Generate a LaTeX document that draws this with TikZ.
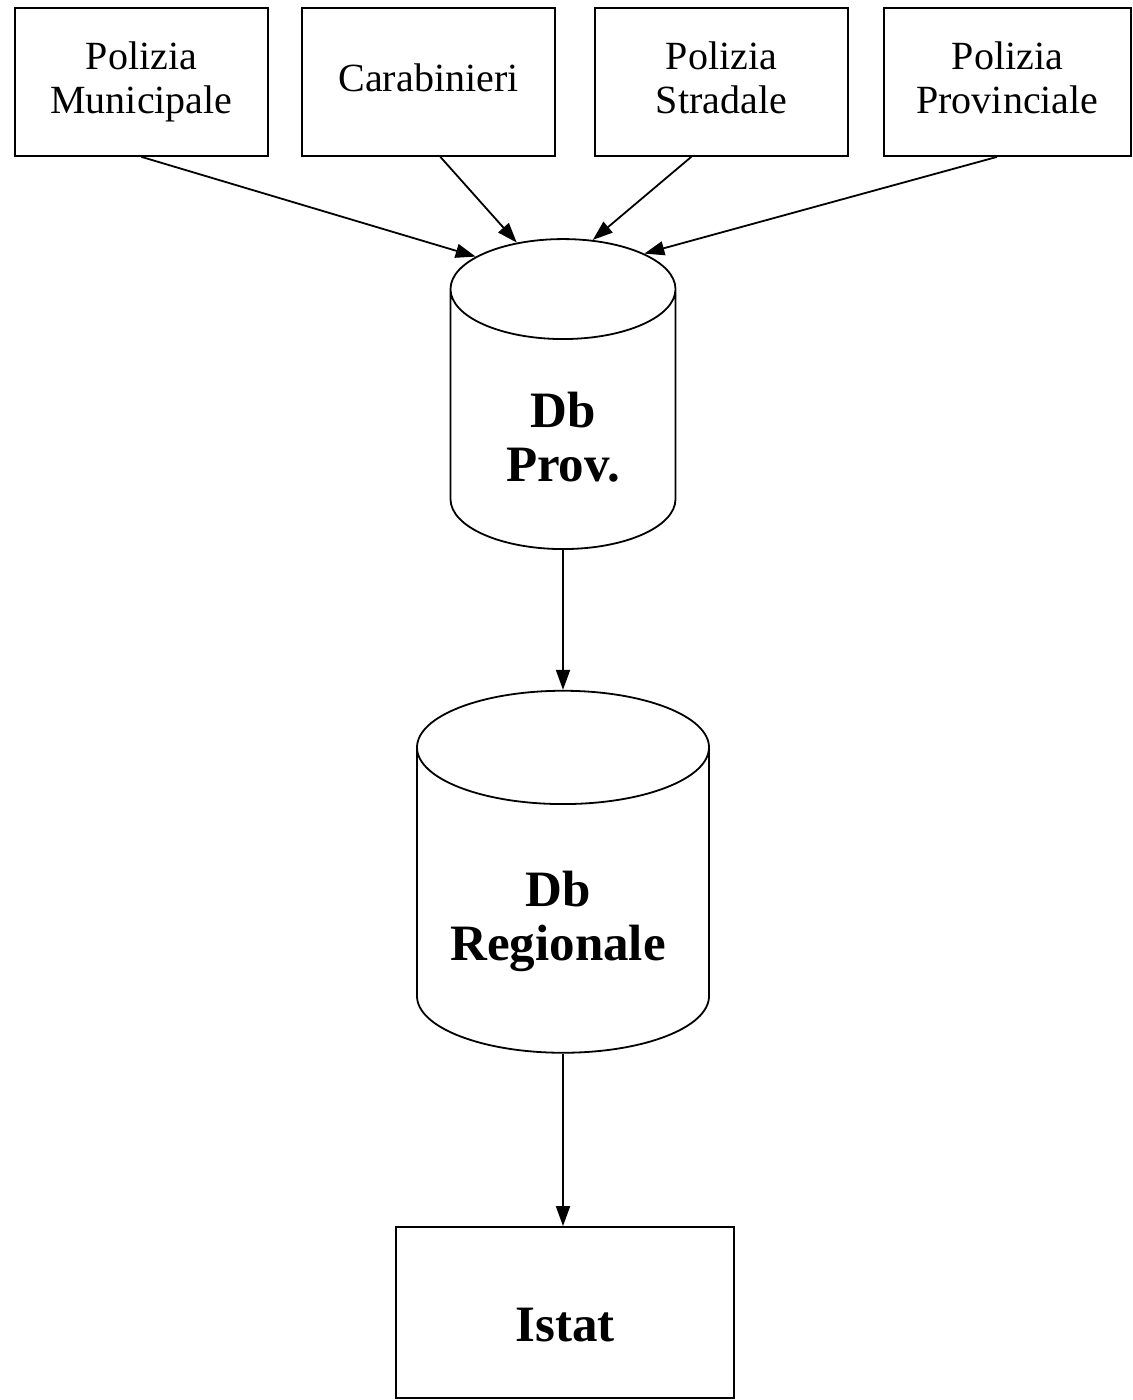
\documentclass[tikz,border=0pt]{standalone}
\usepackage{fontspec}
\setmainfont{Liberation Serif}
\usetikzlibrary{shapes.geometric, arrows.meta}

\tikzset{
  ente/.style={draw, line width=0.9pt, minimum width=126.5pt, minimum height=74pt,
    align=center, text depth=4.4pt, font=\fontsize{20}{22}\selectfont},
  archivio/.style={cylinder, draw, line width=0.9pt, shape border rotate=90},
  titolo/.style={align=center, font=\fontsize{25.5}{27}\selectfont\bfseries},
  freccia/.style={line width=0.9pt, -{Triangle[length=10pt, width=7pt]}}
}

\begin{document}
\begin{tikzpicture}[x=0.5pt, y=-0.5pt]
    \useasboundingbox (0,0) rectangle (1132,1400);

    % chi raccoglie i dati
    \node[ente] (municipale) at (141.5,82) {Polizia\\Municipale};
    \node[ente] (carabinieri) at (428.5,82) {Carabinieri};
    \node[ente] (stradale) at (721.5,82) {Polizia\\Stradale};
    \node[ente, minimum width=123.5pt] (provinciale) at (1007.5,82) {Polizia\\Provinciale};

    % archivi
    \node[archivio, aspect=7.5, minimum width=112.5pt, minimum height=155pt] (dbprov) at (563,428) {};
    \node[titolo] (dbprovtxt) at (563,437) {Db\\Prov.};
    \node[archivio, aspect=8.5, minimum width=146pt, minimum height=181pt] (dbreg) at (563,909) {};
    \node[titolo] (dbregtxt) at (558,921) {Db\\Regionale};

    \node[ente, minimum width=169pt, minimum height=85.5pt] (istat) at (565,1312.5) {};
    \node[titolo] (istattxt) at (565,1325) {Istat};

    % flussi
    \draw[freccia] (municipale.south) -- (dbprov.117);
    \draw[freccia] (carabinieri.279) -- (dbprov.104);
    \draw[freccia] (stradale.248) -- (dbprov.81);
    \draw[freccia] (provinciale.262) -- (dbprov.65);
    \draw[freccia] (dbprov) -- (dbreg);
    \draw[freccia] (dbreg) -- (dbreg |- istat.north);
\end{tikzpicture}
\end{document}
